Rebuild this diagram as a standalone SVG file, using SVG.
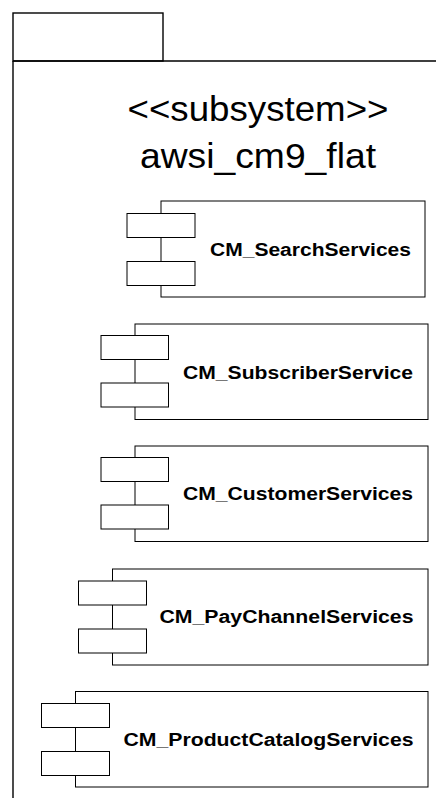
<svg xmlns="http://www.w3.org/2000/svg" width="436" height="798" viewBox="0 0 436 798">
<style>
.frame{fill:none;stroke:#000;stroke-width:1.4}
.body{fill:#fff;stroke:#000;stroke-width:1}
.port{fill:#fff;stroke:#000;stroke-width:1}
.title{font-family:"Liberation Sans",Arial,sans-serif;font-size:35px;fill:#000;text-anchor:middle}
.lbl{font-family:"Liberation Sans",Arial,sans-serif;font-size:18px;font-weight:bold;fill:#000;text-anchor:middle}
</style>
<rect width="436" height="798" fill="#fff"/>
<g id="subsystem">
<rect class="frame" x="13" y="13" width="150" height="48"/>
<path class="frame" d="M13 61 H437 M13 61 V799"/>
<text class="title" x="258" y="121" textLength="261" lengthAdjust="spacingAndGlyphs">&lt;&lt;subsystem&gt;&gt;</text>
<text class="title" x="258" y="168" textLength="236" lengthAdjust="spacingAndGlyphs">awsi_cm9_flat</text>
</g>
<g id="CM_SearchServices">
<rect class="body" x="161" y="201" width="264" height="96"/>
<rect class="port" x="127" y="213.5" width="68" height="24"/>
<rect class="port" x="127" y="261.5" width="68" height="24"/>
<text class="lbl" x="310.5" y="255.5" textLength="201" lengthAdjust="spacingAndGlyphs">CM_SearchServices</text>
</g>
<g id="CM_SubscriberService">
<rect class="body" x="135" y="324" width="293" height="95.5"/>
<rect class="port" x="101" y="335.5" width="67.5" height="24"/>
<rect class="port" x="101" y="383" width="67.5" height="24"/>
<text class="lbl" x="298" y="378.5" textLength="230" lengthAdjust="spacingAndGlyphs">CM_SubscriberService</text>
</g>
<g id="CM_CustomerServices">
<rect class="body" x="135" y="446" width="293" height="95.5"/>
<rect class="port" x="101" y="457.5" width="67.5" height="24"/>
<rect class="port" x="101" y="505" width="67.5" height="24"/>
<text class="lbl" x="298" y="500" textLength="230" lengthAdjust="spacingAndGlyphs">CM_CustomerServices</text>
</g>
<g id="CM_PayChannelServices">
<rect class="body" x="112.5" y="569" width="315.5" height="96"/>
<rect class="port" x="78.5" y="581" width="68" height="24"/>
<rect class="port" x="78.5" y="629" width="68" height="24"/>
<text class="lbl" x="286.5" y="623" textLength="254" lengthAdjust="spacingAndGlyphs">CM_PayChannelServices</text>
</g>
<g id="CM_ProductCatalogServices">
<rect class="body" x="75.5" y="691.5" width="352.5" height="95.5"/>
<rect class="port" x="41.5" y="703.5" width="68" height="24"/>
<rect class="port" x="41.5" y="751.5" width="68" height="24"/>
<text class="lbl" x="268.5" y="746" textLength="290" lengthAdjust="spacingAndGlyphs">CM_ProductCatalogServices</text>
</g>
<g id="connectors"/>
</svg>
